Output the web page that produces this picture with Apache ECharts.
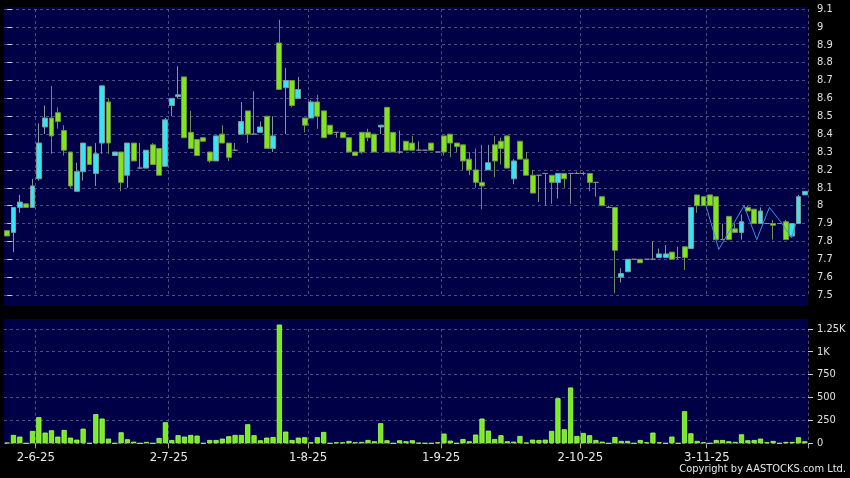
<!DOCTYPE html>
<html><head><meta charset="utf-8">
<script src="https://cdn.jsdelivr.net/npm/echarts@6/dist/echarts.min.js"></script>
<style>html,body{margin:0;padding:0;background:#000;}#c{width:850px;height:478px;}</style>
</head><body><div id="c"></div>
<script>
const dates = ['26-5-25','27-5-25','28-5-25','29-5-25','30-5-25',
'2-6-25','3-6-25','4-6-25','5-6-25','6-6-25','9-6-25','10-6-25','11-6-25','12-6-25','13-6-25','16-6-25','17-6-25','18-6-25','19-6-25','20-6-25','23-6-25','24-6-25','25-6-25','26-6-25','27-6-25','30-6-25',
'2-7-25','3-7-25','4-7-25','7-7-25','8-7-25','9-7-25','10-7-25','11-7-25','14-7-25','15-7-25','16-7-25','17-7-25','18-7-25','21-7-25','22-7-25','23-7-25','24-7-25','25-7-25','28-7-25','29-7-25','30-7-25','31-7-25',
'1-8-25','4-8-25','5-8-25','6-8-25','7-8-25','8-8-25','11-8-25','12-8-25','13-8-25','14-8-25','15-8-25','18-8-25','19-8-25','20-8-25','21-8-25','22-8-25','25-8-25','26-8-25','27-8-25','28-8-25','29-8-25',
'1-9-25','2-9-25','3-9-25','4-9-25','5-9-25','8-9-25','9-9-25','10-9-25','11-9-25','12-9-25','15-9-25','16-9-25','17-9-25','18-9-25','19-9-25','22-9-25','23-9-25','24-9-25','25-9-25','26-9-25','29-9-25','30-9-25',
'2-10-25','3-10-25','6-10-25','8-10-25','9-10-25','10-10-25','13-10-25','14-10-25','15-10-25','16-10-25','17-10-25','20-10-25','21-10-25','22-10-25','23-10-25','24-10-25','27-10-25','28-10-25','30-10-25','31-10-25',
'3-11-25','4-11-25','5-11-25','6-11-25','7-11-25','10-11-25','11-11-25','12-11-25','13-11-25','14-11-25','17-11-25','18-11-25','19-11-25','20-11-25','21-11-25','24-11-25'];

const tickLabels = ['2-6-25','2-7-25','1-8-25','1-9-25','2-10-25','3-11-25'];

const open = [7.86,7.85,7.99,8.01,7.99,8.15,8.44,8.49,8.52,8.42,
8.30,8.08,8.19,8.33,8.18,8.35,8.58,8.28,8.30,8.17,
8.35,8.21,8.21,8.34,8.32,8.22,8.56,8.61,8.72,8.41,
8.37,8.38,8.30,8.25,8.40,8.35,8.31,8.40,8.53,8.40,
8.41,8.50,8.32,8.91,8.66,8.70,8.60,8.49,8.49,8.58,
8.53,8.45,8.41,8.41,8.38,8.30,8.41,8.41,8.40,8.44,
8.55,8.41,8.30,8.36,8.35,8.31,8.31,8.35,8.30,8.39,
8.40,8.35,8.34,8.26,8.20,8.13,8.20,8.34,8.36,8.39,
8.15,8.36,8.26,8.17,8.17,8.18,8.17,8.13,8.18,8.18,
8.18,8.18,8.18,8.13,8.05,7.99,7.99,7.60,7.63,7.70,
7.70,7.70,7.70,7.71,7.71,7.74,7.71,7.77,7.76,8.06,
8.05,8.06,8.05,7.81,7.94,7.87,7.85,7.99,7.98,7.90,
7.90,7.90,7.90,7.91,7.83,7.90,8.06];

const close = [7.83,7.99,8.02,7.99,8.11,8.35,8.49,8.39,8.47,8.31,
8.11,8.19,8.35,8.23,8.29,8.67,8.35,8.30,8.13,8.35,
8.25,8.21,8.31,8.23,8.17,8.48,8.60,8.62,8.38,8.32,
8.28,8.36,8.25,8.39,8.35,8.27,8.31,8.47,8.40,8.40,
8.44,8.32,8.39,8.65,8.70,8.56,8.65,8.45,8.58,8.50,
8.38,8.40,8.41,8.38,8.30,8.28,8.30,8.38,8.30,8.45,
8.30,8.30,8.30,8.31,8.31,8.31,8.31,8.31,8.30,8.30,
8.35,8.33,8.25,8.20,8.13,8.11,8.24,8.25,8.32,8.21,
8.25,8.26,8.17,8.07,8.17,8.18,8.13,8.18,8.15,8.18,
8.18,8.18,8.13,8.13,8.00,7.99,7.75,7.62,7.70,7.70,
7.68,7.70,7.70,7.73,7.73,7.70,7.71,7.71,7.99,8.00,
8.00,8.00,7.81,7.81,7.81,7.85,7.91,7.97,7.90,7.97,
7.90,7.89,7.90,7.81,7.90,8.05,8.08];

const low = [7.83,7.74,7.96,7.99,7.99,8.14,8.40,8.29,8.43,8.28,
8.10,8.08,8.14,8.23,8.11,8.29,8.29,8.28,8.08,8.10,
8.25,8.21,8.21,8.23,8.17,8.22,8.50,8.60,8.38,8.32,
8.28,8.36,8.24,8.25,8.35,8.25,8.31,8.40,8.35,8.40,
8.41,8.32,8.30,8.65,8.40,8.55,8.60,8.41,8.49,8.43,
8.38,8.40,8.38,8.38,8.30,8.28,8.29,8.36,8.30,8.40,
8.30,8.30,8.29,8.31,8.31,8.31,8.31,8.31,8.30,8.28,
8.27,8.30,8.20,8.17,8.10,7.98,8.20,8.16,8.23,8.21,
8.12,8.26,8.17,8.07,8.02,8.00,8.01,8.04,8.10,8.01,
8.18,8.17,8.08,8.05,8.00,7.99,7.51,7.57,7.63,7.70,
7.68,7.70,7.70,7.71,7.71,7.70,7.70,7.64,7.76,7.96,
8.00,8.00,7.81,7.81,7.81,7.85,7.81,7.97,7.90,7.90,
7.90,7.81,7.90,7.81,7.83,7.90,8.06];

const high = [7.86,7.99,8.06,8.01,8.15,8.46,8.56,8.67,8.55,8.45,
8.30,8.24,8.35,8.33,8.35,8.67,8.60,8.30,8.30,8.35,
8.35,8.35,8.31,8.35,8.32,8.49,8.60,8.78,8.72,8.53,
8.37,8.38,8.30,8.39,8.45,8.35,8.35,8.58,8.53,8.64,
8.47,8.50,8.50,9.04,8.77,8.70,8.72,8.49,8.59,8.62,
8.53,8.45,8.41,8.41,8.38,8.30,8.41,8.43,8.40,8.45,
8.55,8.41,8.42,8.36,8.39,8.36,8.31,8.35,8.30,8.39,
8.40,8.35,8.34,8.30,8.32,8.34,8.34,8.39,8.38,8.39,
8.26,8.36,8.30,8.20,8.17,8.18,8.17,8.18,8.18,8.18,
8.19,8.19,8.18,8.13,8.05,8.00,7.99,7.65,7.70,7.70,
7.70,7.70,7.80,7.76,7.78,7.74,7.77,7.77,7.99,8.06,
8.05,8.06,8.05,7.90,7.94,7.90,7.95,8.00,7.98,7.99,
7.90,7.92,7.90,7.92,7.90,8.06,8.08];

const volume = [7,91,73,0,135,285,117,142,73,146,
62,40,160,0,318,270,51,0,120,44,
18,0,15,0,58,230,36,88,73,91,
84,0,36,36,51,77,91,91,208,88,
33,62,69,1296,128,36,62,66,11,66,
124,0,11,11,26,11,15,36,22,219,
33,0,33,22,33,4,0,0,11,106,
29,0,47,22,95,270,138,47,88,22,
18,80,7,40,36,40,135,492,153,609,
80,113,88,36,18,0,69,26,26,0,
36,11,117,11,0,73,0,350,109,26,
11,0,36,36,22,15,98,33,36,51,
11,26,0,15,15,66,22];

// thin blue line: positions in trading-day index units and prices
const lineIdx = [110.3,112.4,116.4,118.4,120.4,122.4,123.9,124.6];
const linePrice = [8.01,7.755,8.00,7.81,7.99,7.90,7.82,7.90];

const volTicks = {0:'0',250:'250',500:'500',750:'750',1000:'1K',1250:'1.25K'};

const FONT = "'DejaVu Sans Condensed','DejaVu Sans',sans-serif";
const NAVY = '#000046';
const GRIDC = '#4b4b80';
const showIdx = (i) => tickLabels.indexOf(dates[i]) >= 0;

const chart = echarts.init(document.getElementById('c'), null, {renderer:'canvas'});
const ohlc = dates.map((d,i)=>[open[i],close[i],low[i],high[i]]);
const lineData = lineIdx.map((x,i)=>[x, linePrice[i]]);

chart.setOption({
  backgroundColor:'#000',
  animation:false,
  graphic:[
    {type:'rect', z:-10, silent:true, shape:{x:4,y:7,width:804,height:299}, style:{fill:NAVY}},
    {type:'rect', z:-10, silent:true, shape:{x:4,y:319,width:804,height:124.5}, style:{fill:NAVY}},
    {type:'text', right:4, top:464, silent:true, style:{text:'Copyright by AASTOCKS.com Ltd.', fill:'#e6e6e6', font:"11px "+FONT}}
  ],
  grid:[
    {left:4, width:804, top:9, height:286},
    {left:4, width:804, top:328.8, height:114.5}
  ],
  xAxis:[
    {type:'category', gridIndex:0, data:dates, boundaryGap:true,
     axisLine:{show:false}, axisTick:{show:false}, axisLabel:{show:false},
     splitLine:{show:true, interval:(i)=>showIdx(i), lineStyle:{color:GRIDC, type:[3,3], width:1}}},
    {type:'category', gridIndex:1, data:dates, boundaryGap:true,
     axisLine:{show:false},
     axisTick:{show:true, interval:(i)=>showIdx(i), length:5, lineStyle:{color:'#aaaaaa'}},
     axisLabel:{show:true, interval:(i)=>showIdx(i), color:'#e8e8e8', fontSize:13, fontFamily:FONT, margin:8, padding:[0,6,0,0]},
     splitLine:{show:true, interval:(i)=>showIdx(i), lineStyle:{color:GRIDC, type:[3,3], width:1}}},
    {type:'value', gridIndex:0, min:-0.5, max:dates.length-0.5, show:false}
  ],
  yAxis:[
    {type:'value', gridIndex:0, position:'right', min:7.5, max:9.1, interval:0.1,
     axisLine:{show:false}, axisTick:{show:true, length:5, lineStyle:{color:'#cccccc'}},
     axisLabel:{color:'#e0e0e0', fontSize:11, fontFamily:FONT, margin:9, formatter:(v)=>String(parseFloat(v.toFixed(2)))},
     splitLine:{show:true, lineStyle:{color:GRIDC, type:[3,3], width:1}}},
    {type:'value', gridIndex:1, position:'right', min:0, max:1250, interval:250,
     axisLine:{show:false}, axisTick:{show:true, length:5, lineStyle:{color:'#cccccc'}},
     axisLabel:{color:'#e0e0e0', fontSize:11, fontFamily:FONT, margin:9, formatter:(v)=>volTicks[v]!==undefined?volTicks[v]:String(v)},
     splitLine:{show:true, lineStyle:{color:GRIDC, type:[3,3], width:1}}}
  ],
  series:[
    {type:'candlestick', xAxisIndex:0, yAxisIndex:0, data:ohlc, barWidth:5.4,
     itemStyle:{color:'#33e6f2', color0:'#7fe61a', borderColor:'#7f9a9a', borderColor0:'#6f8f50', borderColorDoji:'#8a8a8a', borderWidth:1}},
    {type:'line', xAxisIndex:2, yAxisIndex:0, data:lineData, symbol:'none', z:5,
     lineStyle:{color:'#3a90dc', width:1}},
    {type:'bar', xAxisIndex:1, yAxisIndex:1, data:volume, barWidth:5.2, clip:false,
     itemStyle:{color:'#77ee1c', borderColor:'#a8ff60', borderWidth:0.8}}
  ]
});
</script></body></html>
